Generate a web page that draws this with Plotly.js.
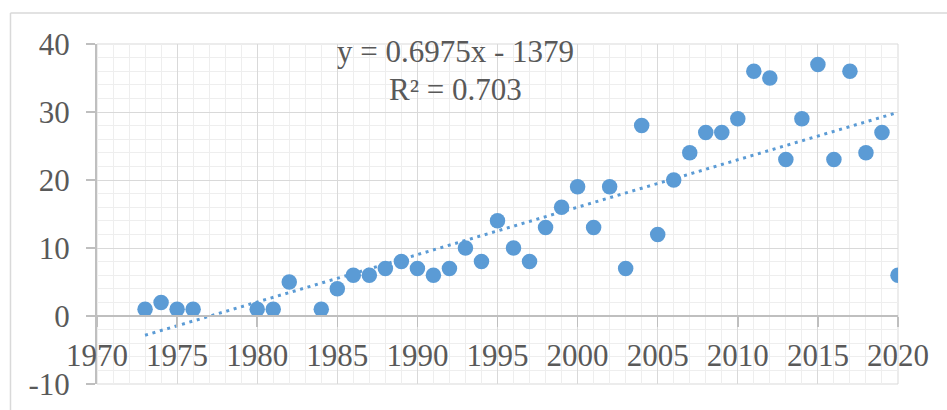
<!DOCTYPE html>
<html>
<head>
<meta charset="utf-8">
<script src="https://cdn.plot.ly/plotly-3.0.1.min.js"></script>
<style>html,body{margin:0;padding:0;background:#fff;}#chart{width:947px;height:410px;}</style>
</head>
<body>
<div id="chart"></div>
<script>
// Data
const years = [1973,1974,1975,1976,1980,1981,1982,1984,1985,1986,1987,1988,1989,1990,1991,1992,1993,1994,1995,1996,1997,1998,1999,2000,2001,2002,2003,2004,2005,2006,2007,2008,2009,2010,2011,2012,2013,2014,2015,2016,2017,2018,2019,2020];
const counts = [1,2,1,1,1,1,5,1,4,6,6,7,8,7,6,7,10,8,14,10,8,13,16,19,13,19,7,28,12,20,24,27,27,29,36,35,23,29,37,23,36,24,27,6];
const xTickVals = [1970,1975,1980,1985,1990,1995,2000,2005,2010,2015,2020];
const yTickVals = [-10,0,10,20,30,40];
const trendSlope = 0.6975;
const trendIntercept = -1379;
const eqLine1 = "y = 0.6975x - 1379";
const eqLine2 = "R² = 0.703";

const trendX = [years[0], years[years.length-1]];
const trendY = trendX.map(x => trendSlope*x + trendIntercept);

const blue = '#5b9bd5';
const txt = '#595959';
const fontFam = '"Liberation Serif", "Times New Roman", serif';

const traces = [
  {x: trendX, y: trendY, type:'scatter', mode:'lines',
   line:{color: blue, width: 3, dash:'3px,4.7px'}, hoverinfo:'skip', showlegend:false},
  {x: years, y: counts, type:'scatter', mode:'markers',
   marker:{color: blue, size: 15.5}, showlegend:false}
];

const layout = {
  width: 947, height: 410,
  margin: {l: 96.5, r: 49, t: 44, b: 26},
  paper_bgcolor: '#fff', plot_bgcolor: '#fff',
  font: {family: fontFam, size: 31, color: txt},
  showlegend: false,
  xaxis: {
    range: [1970, 2020], tickvals: xTickVals, ticktext: xTickVals.map(String),
    anchor: 'free', position: 0.2,
    showline: true, linecolor: '#bfbfbf', linewidth: 2,
    ticks: 'outside', ticklen: 10, tickcolor: '#bfbfbf', tickwidth: 1.5,
    showgrid: true, gridcolor: '#d9d9d9', gridwidth: 1,
    minor: {dtick: 1, showgrid: true, gridcolor: '#eeeeee', gridwidth: 1},
    zeroline: false, tickfont: {family: fontFam, size: 31, color: txt},
    ticklabelstandoff: 2, fixedrange: true
  },
  yaxis: {
    range: [-10, 40], tickvals: yTickVals, ticktext: yTickVals.map(String),
    showline: true, linecolor: '#bfbfbf', linewidth: 2,
    ticks: 'outside', ticklen: 9, tickcolor: '#bfbfbf', tickwidth: 1.5,
    showgrid: true, gridcolor: '#d9d9d9', gridwidth: 1,
    minor: {dtick: 2, showgrid: true, gridcolor: '#eeeeee', gridwidth: 1},
    zeroline: false, tickfont: {family: fontFam, size: 31, color: txt},
    ticklabelstandoff: 10, fixedrange: true
  },
  shapes: [
    {type:'rect', xref:'paper', yref:'paper', x0: 0, x1: 1, y0: 0, y1: 1,
     line:{color:'#d9d9d9', width:1}, layer:'below'},
    {type:'line', xref:'paper', yref:'paper', x0: -0.108, x1: 1.07, y0: 1.091, y1: 1.091,
     line:{color:'#d9d9d9', width:1.5}},
    {type:'line', xref:'paper', yref:'paper', x0: -0.108, x1: -0.108, y0: 1.091, y1: -0.12,
     line:{color:'#d9d9d9', width:1.5}}
  ],
  annotations: [
    {text: eqLine1, xref:'x', yref:'y', x: 1992.36, y: 38.9, showarrow:false,
     xanchor:'center', yanchor:'middle', font:{family: fontFam, size: 31, color: txt}},
    {text: eqLine2, xref:'x', yref:'y', x: 1992.36, y: 33.3, showarrow:false,
     xanchor:'center', yanchor:'middle', font:{family: fontFam, size: 31, color: txt}}
  ]
};

Plotly.newPlot('chart', traces, layout, {displayModeBar:false, staticPlot:true});
</script>
</body>
</html>
